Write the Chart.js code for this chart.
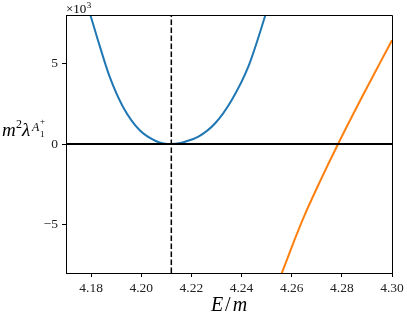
<!DOCTYPE html>
<html>
<head>
<meta charset="utf-8">
<script src="https://cdn.jsdelivr.net/npm/chart.js@4/dist/chart.umd.min.js"></script>
<style>
  html, body { margin: 0; padding: 0; background: #fff; }
</style>
</head>
<body>
<canvas id="c" width="407" height="317"></canvas>
<script>
// data (y in plain units, axis shows x10^3)
var blueX = [4.178, 4.1797, 4.1834, 4.1874, 4.1927, 4.1993, 4.2060, 4.2090, 4.2120, 4.2150, 4.2175, 4.2228, 4.2295, 4.2361, 4.2427, 4.2493, 4.2510];
var blueY = [8800, 8000, 6100, 4175, 2315, 868, 170, 35, 0, 40, 143, 453, 1284, 2729, 4794, 7894, 8800];
var orangeX = [4.2550, 4.2560, 4.2606, 4.2646, 4.2712, 4.2785, 4.2885, 4.2951, 4.3000];
var orangeY = [-8400, -8019, -6158, -4608, -2350, 0, 3050, 5000, 6430];
var markerE = 4.212;      // dashed vertical line
var zeroLevel = 0;        // horizontal black line
var xTicks = [4.18, 4.20, 4.22, 4.24, 4.26, 4.28, 4.30];
var yTicks = [-5000, 0, 5000];
var xMin = 4.17, xMax = 4.30, yMin = -8000, yMax = 8000;

function pts(xs, ys) {
    return xs.map(function (x, i) { return { x: x, y: ys[i] }; });
}

var serif = "'Liberation Serif', 'DejaVu Serif', serif";

var textPlugin = {
    id: 'texts',
    afterDraw: function (chart) {
        var ctx = chart.ctx;
        var a = chart.chartArea;
        ctx.save();
        // top and right spines
        ctx.strokeStyle = '#000';
        ctx.lineWidth = 1;
        ctx.beginPath();
        ctx.moveTo(a.left, a.top + 0.5);
        ctx.lineTo(a.right + 0.5, a.top + 0.5);
        ctx.lineTo(a.right + 0.5, a.bottom);
        ctx.stroke();

        ctx.fillStyle = '#000';
        ctx.textBaseline = 'alphabetic';
        ctx.textAlign = 'left';

        // x10^3 offset text
        ctx.font = '13px ' + serif;
        ctx.fillText('\u00d710', 66, 13);
        var w = ctx.measureText('\u00d710').width;
        ctx.font = '9px ' + serif;
        ctx.fillText('3', 66 + w + 0.5, 8);

        // y label  m^2 lambda^{A_1^+}
        ctx.font = 'italic 19px ' + serif;
        ctx.fillText('m', 2, 136);
        ctx.font = '12px ' + serif;
        ctx.fillText('2', 16, 128);
        ctx.font = 'italic 19px ' + serif;
        ctx.fillText('\u03bb', 22, 136);
        ctx.font = 'italic 12px ' + serif;
        ctx.fillText('A', 32, 131);
        ctx.font = '9px ' + serif;
        ctx.fillText('1', 40, 137);
        ctx.fillText('+', 40, 124);

        // x label E/m
        var cx = (a.left + a.right) / 2;
        var base = 311;
        ctx.font = 'italic 20px ' + serif;
        var wE = ctx.measureText('E').width;
        var wM = ctx.measureText('m').width;
        ctx.font = '20px ' + serif;
        var wS = ctx.measureText('/').width;
        var gap = 2;
        var total = wE + wS + wM + 2 * gap;
        var x0 = cx - total / 2;
        ctx.font = 'italic 20px ' + serif;
        ctx.fillText('E', x0, base);
        ctx.font = '20px ' + serif;
        ctx.fillText('/', x0 + wE + gap, base);
        ctx.font = 'italic 20px ' + serif;
        ctx.fillText('m', x0 + wE + wS + 2 * gap, base);
        ctx.restore();
    }
};

var config = {
    type: 'line',
    data: {
        datasets: [
            {
                data: pts([xMin, xMax], [zeroLevel, zeroLevel]),
                borderColor: '#000',
                borderWidth: 2,
                pointRadius: 0,
                order: 0
            },
            {
                data: pts([markerE, markerE], [yMin, yMax]),
                borderColor: '#000',
                borderWidth: 1.5,
                borderDash: [5.5, 2.5],
                pointRadius: 0,
                order: 1
            },
            {
                data: pts(blueX, blueY),
                borderColor: '#1f77b4',
                borderWidth: 2,
                pointRadius: 0,
                cubicInterpolationMode: 'monotone',
                order: 2
            },
            {
                data: pts(orangeX, orangeY),
                borderColor: '#ff7f0e',
                borderWidth: 2,
                pointRadius: 0,
                cubicInterpolationMode: 'monotone',
                order: 3
            }
        ]
    },
    options: {
        responsive: false,
        animation: false,
        events: [],
        layout: { padding: { top: 15, right: 15, left: 0, bottom: 0 } },
        plugins: {
            legend: { display: false },
            tooltip: { enabled: false }
        },
        scales: {
            x: {
                type: 'linear',
                min: xMin,
                max: xMax,
                afterBuildTicks: function (scale) {
                    scale.ticks = xTicks.map(function (v) { return { value: v }; });
                },
                afterFit: function (scale) { scale.height = 44; },
                grid: { drawOnChartArea: false, drawTicks: true, tickLength: 4, color: '#000', lineWidth: 1 },
                border: { display: true, color: '#000', width: 1 },
                ticks: {
                    padding: 3,
                    maxRotation: 0,
                    autoSkip: false,
                    color: '#222',
                    font: { family: serif, size: 13.5 },
                    callback: function (v) { return v.toFixed(2); }
                }
            },
            y: {
                min: yMin,
                max: yMax,
                afterBuildTicks: function (scale) {
                    scale.ticks = yTicks.map(function (v) { return { value: v }; });
                },
                afterFit: function (scale) { scale.width = 66; },
                grid: { drawOnChartArea: false, drawTicks: true, tickLength: 4, color: '#000', lineWidth: 1 },
                border: { display: true, color: '#000', width: 1 },
                ticks: {
                    padding: 4,
                    color: '#222',
                    font: { family: serif, size: 13.5 },
                    callback: function (v) {
                        var n = v / 1000;
                        return n < 0 ? '\u2212' + Math.abs(n) : String(n);
                    }
                }
            }
        }
    },
    plugins: [textPlugin]
};

var ctx = document.getElementById('c').getContext('2d');
var chart = new Chart(ctx, config);
</script>
</body>
</html>
